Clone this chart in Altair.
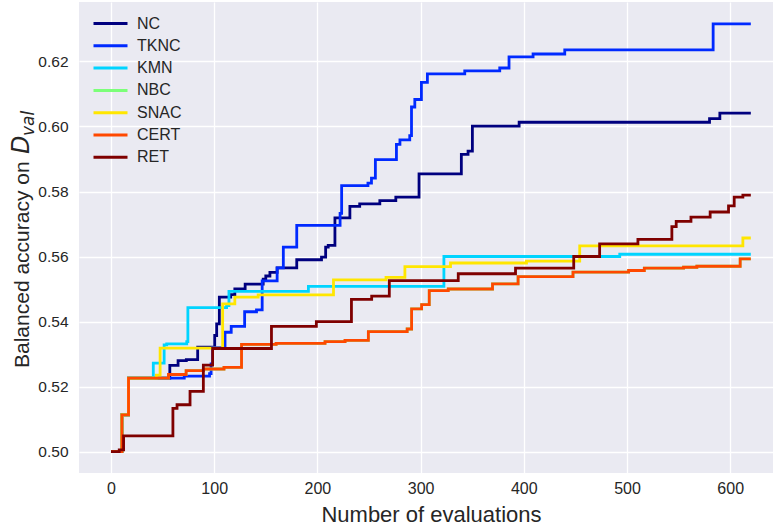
import altair as alt
import pandas as pd

series_names = ["NC", "TKNC", "KMN", "NBC", "SNAC", "CERT", "RET"]
series_colors = ["#00007f", "#002aff", "#00d4ff", "#7cff79", "#ffe600", "#ff4800", "#7f0000"]

nc_x = [0, 10.6, 17, 57, 65, 73, 84, 100.5, 102.4, 105, 116, 120, 130, 147.5, 150, 154, 161, 180, 204, 208, 210.5, 217, 231.5, 241, 260.5, 276, 298.5, 339.5, 346, 350.2, 395.5, 580, 590, 620]
nc_y = [0.500, 0.5113, 0.5226, 0.5265, 0.5280, 0.5283, 0.5321, 0.5357, 0.5393, 0.5475, 0.5483, 0.5500, 0.5515, 0.5530, 0.5540, 0.5551, 0.5565, 0.5590, 0.5598, 0.5629, 0.5634, 0.5719, 0.5754, 0.5762, 0.5772, 0.5783, 0.5854, 0.5914, 0.5924, 0.6001, 0.6013, 0.6024, 0.6041, 0.6041]

tknc_x = [0, 10.6, 17, 71, 95.5, 97, 98.5, 110.5, 116.5, 129.5, 141, 146.5, 161, 167, 180, 222, 223.5, 249, 252.4, 256.2, 276.6, 280, 289.5, 291.2, 294.4, 300.8, 306.6, 342.8, 376.7, 385.7, 409, 439.7, 583.5, 620]
tknc_y = [0.500, 0.5113, 0.5226, 0.5232, 0.5240, 0.5270, 0.5320, 0.5367, 0.5385, 0.5430, 0.5436, 0.5525, 0.5565, 0.5629, 0.5696, 0.5733, 0.5818, 0.5826, 0.5841, 0.5898, 0.5945, 0.5959, 0.5972, 0.6060, 0.6083, 0.6136, 0.6162, 0.6171, 0.6180, 0.6214, 0.6223, 0.6236, 0.6316, 0.6316]

kmn_x = [0, 10.6, 17, 41, 51.5, 54, 73.4, 74.5, 112, 114.3, 191.3, 322.6, 493, 620]
kmn_y = [0.500, 0.5113, 0.5226, 0.5272, 0.5328, 0.5331, 0.5338, 0.5443, 0.5449, 0.5493, 0.5508, 0.5600, 0.5607, 0.5607]

snac_x = [0, 10.6, 17, 44, 47.6, 108.2, 120, 142.6, 215.6, 266.5, 284.8, 329, 402.6, 454.2, 612.3, 620]
snac_y = [0.500, 0.5113, 0.5226, 0.5235, 0.5318, 0.5454, 0.5475, 0.5482, 0.5528, 0.5536, 0.5569, 0.5580, 0.5586, 0.5633, 0.5657, 0.5657]

cert_x = [0, 10.6, 17, 55.7, 72.8, 89.5, 109.5, 126.5, 160, 207.4, 226.8, 249.4, 287, 291.3, 301, 308.4, 326.8, 369.7, 394.5, 447.7, 501.6, 516.8, 554.8, 567.7, 609.7, 620]
cert_y = [0.500, 0.5113, 0.5226, 0.5237, 0.5249, 0.5254, 0.5259, 0.5330, 0.5333, 0.5338, 0.5342, 0.5369, 0.5377, 0.5439, 0.5452, 0.5495, 0.5500, 0.5516, 0.5538, 0.5552, 0.5557, 0.5564, 0.5567, 0.5570, 0.5593, 0.5593]

nbc_x = list(cert_x)
nbc_y = list(cert_y)

ret_x = [0, 8, 12.2, 60, 64, 76.6, 89.5, 98.5, 155.5, 199, 233, 252.6, 269.7, 336.5, 392, 448.4, 473.5, 510.6, 543.5, 547.7, 562, 580.6, 598.4, 603.9, 612.3, 620]
ret_y = [0.500, 0.5005, 0.5048, 0.5133, 0.5144, 0.5185, 0.5266, 0.5317, 0.5385, 0.5400, 0.5468, 0.5478, 0.5526, 0.5547, 0.5564, 0.5600, 0.5639, 0.5653, 0.5692, 0.5708, 0.5721, 0.5737, 0.5756, 0.5783, 0.5789, 0.5789]

x_ticks = [0, 100, 200, 300, 400, 500, 600]
y_ticks = [0.50, 0.52, 0.54, 0.56, 0.58, 0.60, 0.62]

series_data = {
    "NC": (nc_x, nc_y), "TKNC": (tknc_x, tknc_y), "KMN": (kmn_x, kmn_y),
    "NBC": (nbc_x, nbc_y), "SNAC": (snac_x, snac_y), "CERT": (cert_x, cert_y),
    "RET": (ret_x, ret_y),
}
rows = []
for name in series_names:
    xs, ys = series_data[name]
    for i, (xv, yv) in enumerate(zip(xs, ys)):
        rows.append({"series": name, "evals": xv, "acc": yv, "idx": i})
df = pd.DataFrame(rows)

TXT = "#262626"
FONT = "Liberation Sans"

x_enc = alt.X("evals:Q",
              scale=alt.Scale(domain=[-31, 641.5], nice=False, zero=False),
              axis=alt.Axis(values=x_ticks, title="Number of evaluations",
                            labelFont=FONT, labelFontSize=16,
                            labelColor=TXT, labelPadding=7,
                            titleFont=FONT, titleFontSize=22,
                            titleFontWeight="normal", titleColor=TXT,
                            titleX=352, titleY=48, titleBaseline="alphabetic",
                            titleAlign="center"))
y_enc = alt.Y("acc:Q",
              scale=alt.Scale(domain=[0.4934, 0.6383], nice=False, zero=False),
              axis=alt.Axis(values=y_ticks, format=".2f", title=None,
                            labelFont=FONT, labelFontSize=15.5,
                            labelColor=TXT, labelPadding=11))
color_enc = alt.Color("series:N",
                      scale=alt.Scale(domain=series_names, range=series_colors),
                      legend=alt.Legend(title=None, orient="none", legendX=20, legendY=10,
                                        symbolType="M-1.7,0H1.7", symbolSize=400,
                                        symbolStrokeWidth=3, labelFontSize=16,
                                        labelFont=FONT, labelColor=TXT,
                                        labelOffset=15, rowPadding=2.3, padding=0))

base = alt.Chart(df)
layers = []
for name in series_names:
    layers.append(
        base.transform_filter(alt.datum.series == name)
        .mark_line(interpolate="step-after", strokeWidth=2.8, clip=True)
        .encode(x=x_enc, y=y_enc, color=color_enc, order="idx:Q")
    )

ylab1 = alt.Chart(pd.DataFrame({"t": ["Balanced accuracy on"]})).mark_text(
    angle=270, align="left", baseline="alphabetic", font=FONT,
    fontSize=21, color=TXT
).encode(text="t:N", x=alt.value(-50), y=alt.value(366))
ylab2 = alt.Chart(pd.DataFrame({"t": ["D"]})).mark_text(
    angle=270, align="left", baseline="alphabetic", font="DejaVu Sans",
    fontStyle="italic", fontSize=24, color=TXT
).encode(text="t:N", x=alt.value(-50), y=alt.value(152))
ylab3 = alt.Chart(pd.DataFrame({"t": ["val"]})).mark_text(
    angle=270, align="left", baseline="alphabetic", font="DejaVu Sans",
    fontStyle="italic", fontSize=17, color=TXT
).encode(text="t:N", x=alt.value(-45), y=alt.value(134))

chart = alt.layer(*layers, ylab1, ylab2, ylab3).properties(
    width=694, height=471,
    autosize=alt.AutoSizeParams(type="none"),
    padding={"left": 79, "top": 2, "right": 0, "bottom": 54},
    background="white",
).configure_view(fill="#EAEAF2", strokeWidth=0).configure_axis(
    domain=False, ticks=False, gridColor="white", gridWidth=1.3, gridOpacity=1
)

chart.save("out.html", embed_options={"renderer": "svg", "actions": False})
